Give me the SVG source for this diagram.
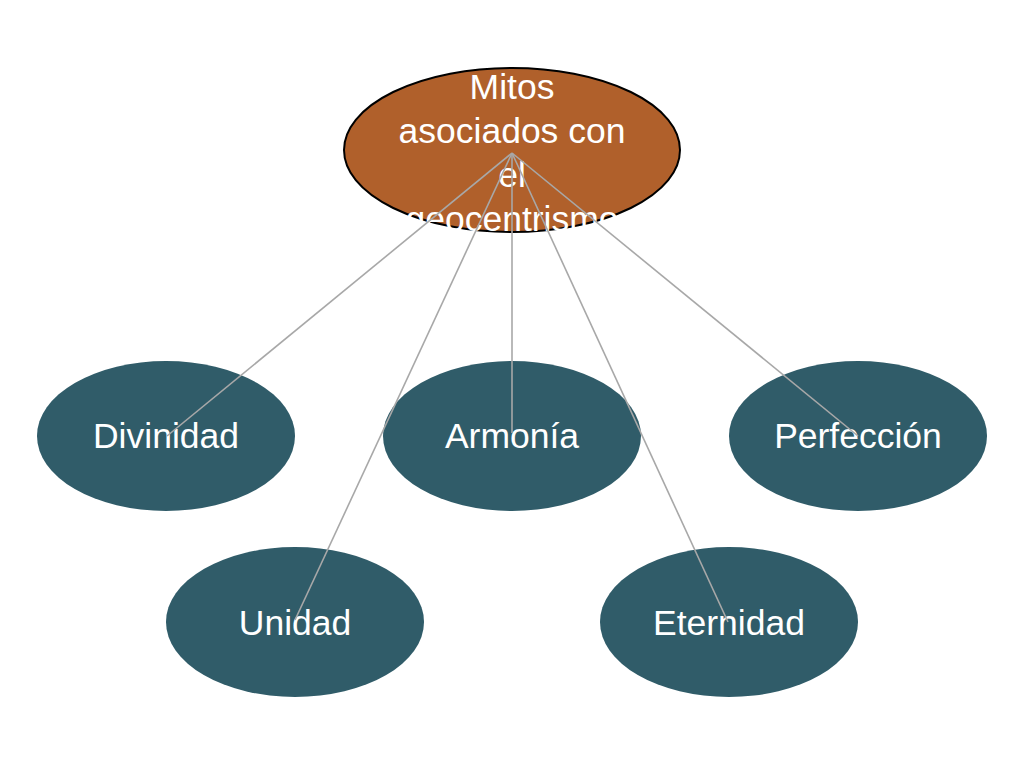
<svg xmlns="http://www.w3.org/2000/svg" width="1024" height="768" viewBox="0 0 1024 768">
<style>
.child{fill:#305C69}
.root{fill:#B0602B;stroke:#000;stroke-width:2}
.t{font-family:"Liberation Sans",Arial,sans-serif;font-size:35.5px;fill:#fff;text-anchor:middle}
.c line{stroke:#A8A8A8;stroke-width:1.6}
</style>
<rect width="1024" height="768" fill="#fff"/>
<g id="root">
<ellipse class="root" cx="512" cy="150" rx="168" ry="82"/>
<text class="t"><tspan x="512" y="99">Mitos</tspan><tspan x="512" y="143">asociados con</tspan><tspan x="512" y="187">el</tspan><tspan x="512" y="231">geocentrismo</tspan></text>
</g>
<g id="divinidad">
<ellipse class="child" cx="166" cy="436" rx="129" ry="75"/>
<text class="t" x="166" y="448">Divinidad</text>
</g>
<g id="armonia">
<ellipse class="child" cx="512" cy="436" rx="129" ry="75"/>
<text class="t" x="512" y="448">Armonía</text>
</g>
<g id="perfeccion">
<ellipse class="child" cx="858" cy="436" rx="129" ry="75"/>
<text class="t" x="858" y="448">Perfección</text>
</g>
<g id="unidad">
<ellipse class="child" cx="295" cy="622" rx="129" ry="75"/>
<text class="t" x="295" y="635">Unidad</text>
</g>
<g id="eternidad">
<ellipse class="child" cx="729" cy="622" rx="129" ry="75"/>
<text class="t" x="729" y="635">Eternidad</text>
</g>
<g id="connectors" class="c">
<line x1="512" y1="153" x2="167" y2="436"/>
<line x1="512" y1="153" x2="295" y2="620"/>
<line x1="512" y1="153" x2="512" y2="433"/>
<line x1="512" y1="153" x2="728" y2="622"/>
<line x1="512" y1="153" x2="858" y2="436"/>
</g>
</svg>
